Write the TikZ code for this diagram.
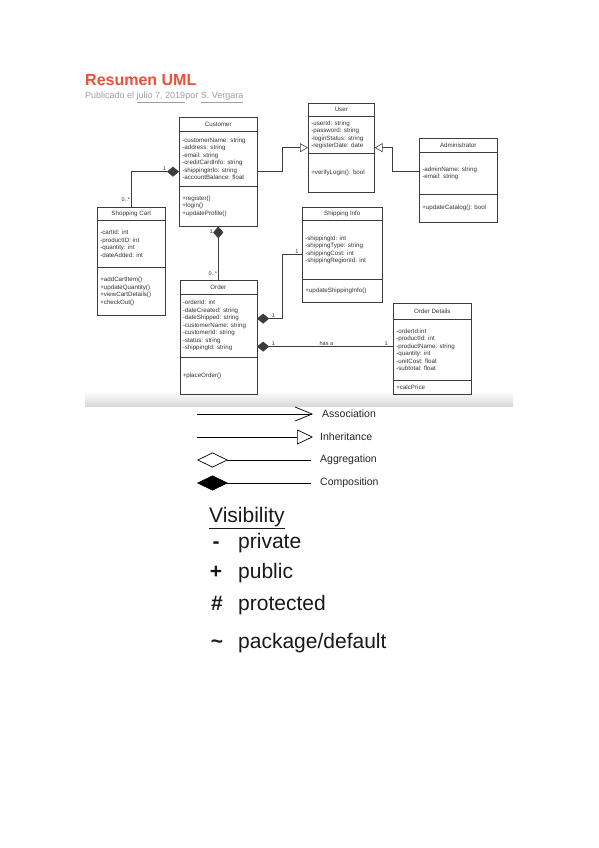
\documentclass[tikz,border=0pt]{standalone}
\usepackage{fontspec}
\setmainfont{Liberation Sans}
\usepackage{tikz}
\usetikzlibrary{positioning,shapes.multipart,arrows.meta}
\definecolor{titlered}{RGB}{240,78,58}
\definecolor{linegray}{RGB}{60,60,60}
\tikzset{class node/.style={draw=linegray,line width=0.6pt,rectangle split,rectangle split parts=3,
		inner xsep=3pt,inner ysep=0pt,anchor=north west,font=\fontsize{6.2}{7.5}\selectfont,text=black!80},
	mult label/.style={font=\fontsize{5.5}{6}\selectfont,inner sep=1pt,text=black!80},
	comp line/.style={draw=linegray,line width=0.6pt,{Diamond[length=12pt,width=10pt]}-},
	inherit line/.style={draw=linegray,line width=0.6pt,-{Triangle[open,length=8pt,width=9pt]}},
	legend line/.style={draw=black,line width=0.7pt},
	legend text/.style={font=\fontsize{10.5}{12}\selectfont,text=black!85,inner sep=0pt,anchor=west},
	vis text/.style={font=\fontsize{21}{24}\selectfont,text=black!90,inner sep=0pt},
}
\newcommand{\umltitle}[3]{\parbox[c][#2pt][c]{#1pt}{\centering #3}}
\newcommand{\umlpart}[3]{\parbox[c][#2pt][c]{#1pt}{\raggedright #3}}

\begin{document}
\begin{tikzpicture}[x=1pt,y=-1pt]
	\useasboundingbox[fill=white] (0,0) rectangle (599,848);
	
	%% screenshot header
	\shade[top color=white,bottom color=gray!30] (85,391) rectangle (513,406);
	\node[anchor=base west,inner sep=0pt,text=titlered,font=\fontsize{16}{18}\selectfont\bfseries] (title) at (85,86) {Resumen UML};
	\node[anchor=base west,inner sep=0pt,text=gray!75,font=\fontsize{9}{10}\selectfont] (byline) at (85,99)
		{Publicado el \underline{julio 7, 2019}por \underline{S. Vergara}};
	
	%% classes
	\node[class node] (customer) at (179,117) {\umltitle{72}{13}{Customer}
		\nodepart{two}\umlpart{72}{55}{-customerName: string\\-address: string\\-email: string\\-creditCardInfo: string\\-shippingInfo: string\\-accountBalance: float}
		\nodepart{three}\umlpart{72}{39}{+register()\\+login()\\+updateProfile()}};
	\node[class node] (user) at (308,103) {\umltitle{60}{12}{User}
		\nodepart{two}\umlpart{60}{37}{-userId: string\\-password: string\\-loginStatus: string\\-registerDate: date}
		\nodepart{three}\umlpart{60}{38}{+verifyLogin(): bool}};
	\node[class node] (admin) at (419,138) {\umltitle{72}{13}{Administrator}
		\nodepart{two}\umlpart{72}{42}{-adminName: string\\-email: string}
		\nodepart{three}\umlpart{72}{27}{+updateCatalog(): bool}};
	\node[class node] (cart) at (97,207) {\umltitle{62}{12}{Shopping Cart}
		\nodepart{two}\umlpart{62}{47}{-cartId: int\\-productID: int\\-quantity: int\\-dateAdded: int}
		\nodepart{three}\umlpart{62}{47}{+addCartItem()\\+updateQuantity()\\+viewCartDetails()\\+checkOut()}};
	\node[class node] (order) [below=54pt of customer] {\umltitle{71}{13}{Order}
		\nodepart{two}\umlpart{71}{62}{-orderId: int\\-dateCreated: string\\-dateShipped: string\\-customerName: string\\-customerId: string\\-status: string\\-shippingId: string}
		\nodepart{three}\umlpart{71}{37}{+placeOrder()}};
	\node[class node] (shipping) at (302,207) {\umltitle{74}{12}{Shipping Info}
		\nodepart{two}\umlpart{74}{59}{-shippingId: int\\-shippingType: string\\-shippingCost: int\\-shippingRegionId: int}
		\nodepart{three}\umlpart{74}{22}{+updateShippingInfo()}};
	\node[class node] (details) at (393,303) {\umltitle{72}{15}{Order Details}
		\nodepart{two}\umlpart{72}{61}{-orderId:int\\-productId: int\\-productName: string\\-quantity: int\\-unitCost: float\\-subtotal: float}
		\nodepart{three}\umlpart{72}{13}{+calcPrice}};
	
	%% relations
	\draw[inherit line] (customer.east) -- ++(25,0) |- (user.west);
	\draw[inherit line] (admin.west |- customer.east) -- ++(-27,0) |- (user.east);
	\draw[comp line] (customer.west) -- node[mult label,pos=0.3,above]{1} (customer.west -| cart.north)
		-- node[mult label,pos=0.78,left]{0..*} (cart.north);
	\draw[comp line] (customer.south) -- node[mult label,pos=0.1,left=4pt]{1} node[mult label,pos=0.87,left]{0..*} (order.north);
	\coordinate (order ship) at ([yshift=19pt]order.east);
	\coordinate (order det) at ([yshift=-9pt]order.east);
	\draw[comp line] (order ship) -- node[mult label,pos=0.65,above]{1} ++(25,0)
		|- node[mult label,pos=0.87,above]{1} (shipping.west);
	\draw[comp line] (order det) -- node[mult label,pos=0.12,above]{1} node[mult label,pos=0.51,above]{has a}
		node[mult label,pos=0.95,above]{1} (order det -| details.west);
	
	%% legend
	\node[legend text] (assoc) at (322,414) {Association};
	\node[legend text] (inher) at (320,437) {Inheritance};
	\node[legend text] (aggr) at (320,460) {Aggregation};
	\node[legend text] (compo) at (320,483) {Composition};
	\coordinate (assoc a) at (197,414); \coordinate (assoc b) at (313,414);
	\coordinate (inher a) at (197,437); \coordinate (inher b) at (313,437);
	\coordinate (aggr a) at (197,460); \coordinate (aggr b) at (311,460);
	\coordinate (compo a) at (197,483); \coordinate (compo b) at (311,483);
	\draw[legend line,-{Straight Barb[length=17pt,width=14pt]}] (assoc a) -- (assoc b);
	\draw[legend line,-{Triangle[open,length=16pt,width=15pt]}] (inher a) -- (inher b);
	\draw[legend line,{Diamond[open,length=31pt,width=15pt]}-] (aggr a) -- (aggr b);
	\draw[legend line,{Diamond[length=31pt,width=15pt]}-] (compo a) -- (compo b);
	
	%% visibility
	\node[vis text,anchor=base west] (vis) at (209,522) {\underline{Visibility}};
	\node[vis text,anchor=base] (priv sign) at (216,548) {\textbf{-}};
	\node[vis text,anchor=base west] (priv) at (238,548) {private};
	\node[vis text,anchor=base] (pub sign) at (216,578) {\textbf{+}};
	\node[vis text,anchor=base west] (pub) at (238,578) {public};
	\node[vis text,anchor=base] (prot sign) at (217,610) {\textbf{\#}};
	\node[vis text,anchor=base west] (prot) at (238,610) {protected};
	\node[vis text,anchor=base] (pack sign) at (217,648) {\textbf{\char`\~}};
	\node[vis text,anchor=base west] (pack) at (238,648) {package/default};
\end{tikzpicture}
\end{document}
